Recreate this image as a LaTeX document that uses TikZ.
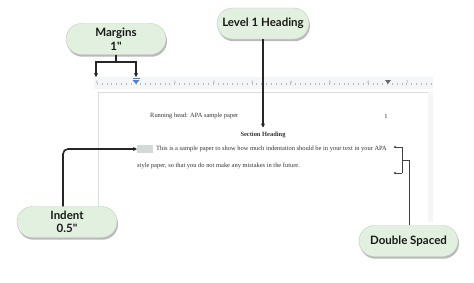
\documentclass[tikz,border=0pt]{standalone}
\usepackage{fontspec}
\setmainfont{Liberation Serif}
\newfontfamily\pillfont{Lato}
\usetikzlibrary{shadows,arrows.meta}
\definecolor{pillgreen}{HTML}{E2F0DF}
\definecolor{rulerbg}{HTML}{F4F5F6}
\definecolor{rulertick}{HTML}{B5B9BE}
\definecolor{markerblue}{HTML}{4A7FD4}
\definecolor{pageedge}{HTML}{DADCE0}
\definecolor{idbox}{HTML}{D3D9D6}
\tikzset{
  pill/.style={fill=pillgreen, draw=pillgreen!85!black, line width=0.4pt,
    rounded corners=15.5pt, minimum height=31pt, align=center, inner sep=2pt,
    font=\pillfont\bfseries\fontsize{11.5}{13.5}\selectfont, text=black!90,
    drop shadow={shadow xshift=1pt, shadow yshift=-2.2pt, fill=black!45, opacity=0.6}},
  conn/.style={draw=black!85, line width=1.3pt, -{Stealth[length=4pt,width=4pt]}},
  thinconn/.style={draw=black!75, line width=0.8pt},
  body/.style={font=\fontsize{6.45}{7.5}\selectfont, text=black!80, inner sep=0pt},
  rnum/.style={font=\sffamily\fontsize{3.5}{4}\selectfont, text=black!55, inner sep=0pt}
}
\begin{document}
\begin{tikzpicture}[x=1pt,y=-1pt]
\useasboundingbox (0,0) rectangle (474,282);
\fill[white] (0,0) rectangle (474,282);

% ruler
\fill[rulerbg] (94,77) rectangle (433,89);
\foreach \i in {0,...,69} {
  \pgfmathsetmacro{\xx}{97+\i*4.8375}
  \draw[rulertick, line width=0.3pt] (\xx,83) -- (\xx,84.5);
}
\foreach \n/\xx in {1/97,1/175,2/213.7,3/252.4,4/291.1,5/329.8,6/368.5,7/407.2} {
  \node[rnum] at (\xx,82) {\n};
}
% margin markers
\fill[markerblue] (132.5,77.5) rectangle (139.5,79);
\fill[markerblue] (132.5,80) -- (139.5,80) -- (136,84) -- cycle;
\fill[black!60] (385,80) -- (391,80) -- (388,84) -- cycle;

% page
\fill[white] (98,92) rectangle (428,225);
\draw[pageedge, line width=0.5pt] (98,215) -- (98,92) -- (428,92) -- (428,222);
\fill[black!4] (428.3,92) rectangle (433,222);

% page text
\node[body, anchor=west] (rh) at (150,116) {Running head: APA sample paper};
\node[body] (pg) at (386,116) {1};
\node[body, font=\bfseries\fontsize{6.45}{7.5}\selectfont] (sh) at (263,134.5) {Section Heading};
\fill[idbox] (137,145) rectangle (153,153);
\coordinate (indentbox) at (137,149);
\node[body, anchor=west] (l1) at (156,149) {This is a sample paper to show how much indentation should be in your text in your APA};
\node[body, anchor=west] (l2) at (137,165.5) {style paper, so that you do not make any mistakes in the future.};

% pills
\node[pill, minimum width=100pt] (marg) at (116,39) {Margins\\1"};
\node[pill, minimum width=92pt] (lvl) at (263,23.5) {Level 1 Heading};
\node[pill, minimum width=100pt] (ind) at (67,222) {Indent\\0.5"};
\node[pill, minimum width=99pt] (dbl) at (408.5,241) {Double Spaced};

% margins connectors
\coordinate (mj) at (116,62);
\coordinate (ml) at (96,62);
\coordinate (mr) at (136,62);
\coordinate (mlt) at (96,77);
\coordinate (mrt) at (136,77);
\draw[draw=black!85, line width=1.1pt] (marg.south) -- (mj);
\draw[conn, line width=1.1pt] (mj) -- (ml) -- (mlt);
\draw[conn, line width=1.1pt] (mj) -- (mr) -- (mrt);

% level 1 connector
\coordinate (sht) at (263,127.5);
\draw[conn, line width=1.5pt] (lvl.south) -- (sht);

% indent connector
\draw[conn, line width=1.6pt, rounded corners=5pt] (ind.north -| 63,0) -- (63,149) -- (indentbox);

% double spaced bracket
\coordinate (bt) at (402,147);
\coordinate (bb) at (402,173);
\coordinate (bm) at (402,160);
\coordinate (btl) at (393.5,147);
\coordinate (bbl) at (393.5,173);
\coordinate (bs) at (409,160);
\draw[thinconn] (bt) -- (bb);
\draw[thinconn, -{Stealth[length=2.5pt,width=2.5pt]}] (bt) -- (btl);
\draw[thinconn, -{Stealth[length=2.5pt,width=2.5pt]}] (bb) -- (bbl);
\draw[thinconn, line width=1pt] (dbl.north -| bs) -- (bs) -- (bm);
\end{tikzpicture}
\end{document}
